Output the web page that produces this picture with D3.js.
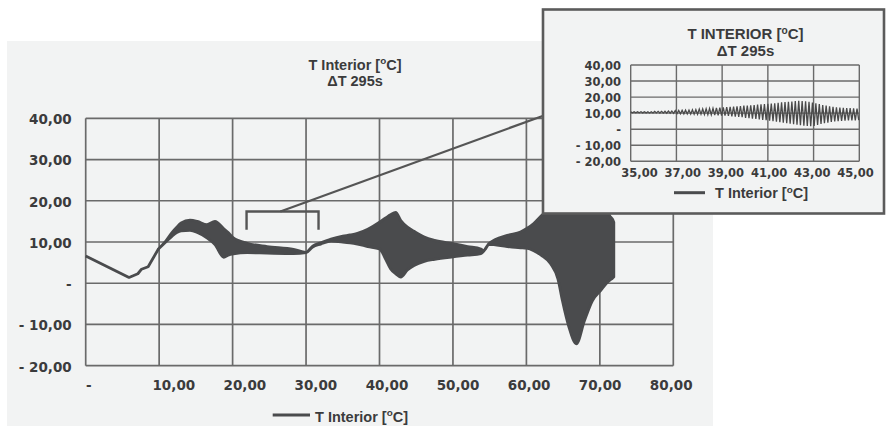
<!DOCTYPE html>
<html><head><meta charset="utf-8">
<script src="https://cdn.jsdelivr.net/npm/d3@7"></script>
<style>
html,body{margin:0;padding:0;background:#fff;}
svg{display:block;}
</style></head>
<body>
<svg id="chart" width="886" height="426"></svg>
<script>
// ---------- DATA ----------
const mainTitle = ["T Interior [", "o", "C]"];
const insetTitle = ["T INTERIOR [", "o", "C]"];
const subTitle = "ΔT 295s";
const legendLabel = ["T Interior [", "o", "C]"];

const xTicks = [0, 10, 20, 30, 40, 50, 60, 70, 80];
const yTicks = [-20, -10, 0, 10, 20, 30, 40];
const insetXTicks = [35, 37, 39, 41, 43, 45];
const insetYTicks = [-20, -10, 0, 10, 20, 30, 40];

// envelope of the strongly oscillating main series (upper / lower)
const envX = [0,5.9,7.1,7.6,8.5,9.9,10.9,11.8,12.4,13.0,14.2,15.2,16.5,17.6,18.8,19.4,20.1,22.0,24.7,28.3,30.0,30.9,32.0,33.4,35.0,36.0,37.0,38.4,40.0,40.9,41.5,42.2,42.9,43.8,44.7,46.1,47.5,50.0,52.0,53.8,54.2,54.9,57.4,59.2,60.0,61.0,62.0,63.3,64.3,64.9,65.8,66.8,67.9,69.0,70.1,71.0,71.4,71.7,71.9];
const envUpper = [6.6,1.4,2.3,3.4,4.0,8.3,10.2,12.4,13.6,14.6,15.3,15.0,14.2,15.0,13.2,12.3,11.0,9.7,8.9,8.2,7.5,9.0,9.8,10.7,11.4,11.7,12.1,13.1,14.8,15.9,16.6,17.2,15.2,13.6,12.6,11.2,10.4,9.6,8.9,8.3,7.9,9.6,11.6,12.4,13.2,14.5,16.3,18.5,19.5,20.0,20.5,20.5,20.5,20.0,19.0,17.5,16.2,15.6,14.8];
const envLower = [6.6,1.4,2.3,3.4,4.0,8.3,10.0,11.5,12.3,12.7,12.8,12.3,11.0,9.4,6.3,6.8,7.1,7.4,7.3,7.2,7.4,8.8,9.5,10.2,10.0,9.8,9.5,8.9,8.3,5.6,3.5,2.3,1.5,3.2,4.3,5.3,5.8,6.4,6.8,7.2,7.8,9.4,8.9,8.6,8.5,7.9,6.8,4.7,1.0,-4.2,-10.7,-14.7,-9.1,-4.2,-1.8,0.2,0.8,1.2,1.5];

// inset: the series between 35 and 45, one value per sample (ΔT step)
const insetStart = 35;
const insetStep = 0.075;
const insetValues = [10.8,10.2,10.8,10.2,10.8,10.2,10.85,10.15,10.85,10.15,10.9,10.1,10.9,10.1,
11.05,10.15,11.1,10.1,11.15,10.05,11.2,10.0,11.3,9.95,11.35,9.9,
11.6,9.65,11.7,9.6,11.75,9.55,11.85,9.5,11.95,9.45,12.05,9.35,12.15,9.3,
12.5,9.3,12.6,9.2,12.75,9.1,12.9,9.0,13.05,8.85,13.2,8.7,13.4,8.5,
13.6,8.4,13.75,8.25,13.9,8.05,14.1,7.9,14.3,7.7,14.45,7.5,14.7,
7.0,14.7,6.8,14.9,6.6,15.1,6.35,15.3,6.1,15.5,5.85,15.7,5.6,
15.8,5.3,16.0,5.0,16.2,4.7,16.4,4.4,16.7,4.0,16.9,3.7,17.1,3.4,
17.3,3.1,17.6,2.8,17.7,2.5,17.6,2.2,17.4,2.0,17.0,1.8,16.6,
2.0,16.1,2.6,15.6,3.2,15.1,3.7,14.7,4.1,14.3,4.5,14.0,4.8,
13.7,5.0,13.5,5.2,13.3,5.3,13.2,5.4,13.1,5.5,13.0,5.5,12.9,5.6];

// zoom annotation (bracket on the main chart, link to inset)
const bracketX = [21.9, 31.7];
const bracketY = [13.0, 17.4];
const linkFrom = [26.5, 17.4];
const linkTo = [62.4, 40.7];

// ---------- RENDER ----------
const svg = d3.select("#chart");
const ink = "#3b3b3c", grid = "#6a6a6a", band = "#4a4b4d", bg = "#f2f3f3";
const tickFont = "'DejaVu Sans', sans-serif";
const titleFont = "'Liberation Sans', Arial, sans-serif";

const loc = d3.formatLocale({decimal: ",", thousands: ".", grouping: [3], currency: ["", ""]});
const f2 = loc.format(".2f");
const fmt = v => v === 0 ? "-" : (v < 0 ? "- " + f2(-v) : f2(v));

function titleText(g, parts, x, yb, size, anchor) {
  const t = g.append("text").attr("x", x).attr("y", yb)
    .attr("text-anchor", anchor).attr("font-family", titleFont)
    .attr("font-weight", "bold").attr("font-size", size).attr("fill", ink);
  t.append("tspan").text(parts[0]);
  t.append("tspan").text(parts[1]).attr("font-size", size * 0.68).attr("dy", -size * 0.36);
  t.append("tspan").text(parts[2]).attr("dy", size * 0.36);
  return t;
}

// main panel
svg.append("rect").attr("x", 7).attr("y", 41).attr("width", 706).attr("height", 385).attr("fill", bg);

const x = d3.scaleLinear().domain([0, 80]).range([85.7, 673.3]);
const y = d3.scaleLinear().domain([-20, 40]).range([365.7, 118.3]);
const xLab = d3.scaleLinear().domain([10, 80]).range([173.3, 670.7]);

const gMain = svg.append("g");
// grid
gMain.append("g").selectAll("line.h").data(yTicks).join("line")
  .attr("x1", x(0)).attr("x2", x(80)).attr("y1", d => y(d)).attr("y2", d => y(d))
  .attr("stroke", grid).attr("stroke-width", 1.7);
gMain.append("g").selectAll("line.v").data(xTicks).join("line")
  .attr("x1", d => x(d)).attr("x2", d => x(d)).attr("y1", y(40)).attr("y2", y(-20))
  .attr("stroke", grid).attr("stroke-width", 1.7);

// axes labels
const yAx = gMain.append("g").attr("transform", `translate(71.7,0)`)
  .call(d3.axisLeft(y).tickValues(yTicks).tickFormat(fmt).tickSize(0).tickPadding(0));
yAx.select(".domain").remove();
yAx.selectAll("text").attr("font-family", tickFont).attr("font-weight", "bold")
  .attr("font-size", 13.5).attr("fill", ink).attr("dy", "0.4em");

const xAx = gMain.append("g").attr("transform", `translate(0,390)`)
  .call(d3.axisBottom(x).tickValues(xTicks).tickFormat(fmt).tickSize(0).tickPadding(0));
xAx.select(".domain").remove();
xAx.selectAll("text").attr("font-family", tickFont).attr("font-weight", "bold")
  .attr("font-size", 13.5).attr("fill", ink).attr("dy", 0)
  .attr("x", d => (d === 0 ? x(0) + 2.6 : xLab(d)) - x(d));

// series: plain line where the oscillation is negligible, smooth band elsewhere
const env = envX.map((v, i) => ({x: v, u: envUpper[i], l: envLower[i]}));
const split = 5;
gMain.append("path").datum(env.slice(0, split + 1))
  .attr("d", d3.line().x(d => x(d.x)).y(d => y(d.u)))
  .attr("fill", "none").attr("stroke", band).attr("stroke-width", 2.8).attr("stroke-linejoin", "round");
gMain.append("path").datum(env.slice(split))
  .attr("d", d3.area().x(d => x(d.x)).y0(d => y(d.l)).y1(d => y(d.u)).curve(d3.curveMonotoneX))
  .attr("fill", band).attr("stroke", band).attr("stroke-width", 2.8).attr("stroke-linejoin", "round");

// titles
titleText(gMain, mainTitle, 355, 69.5, 14.5, "middle");
gMain.append("text").attr("x", 355).attr("y", 85.5).attr("text-anchor", "middle")
  .attr("font-family", titleFont).attr("font-weight", "bold").attr("font-size", 14.5)
  .attr("fill", ink).text(subTitle);

// legend
gMain.append("line").attr("x1", 272.7).attr("x2", 310).attr("y1", 415).attr("y2", 415)
  .attr("stroke", band).attr("stroke-width", 3);
titleText(gMain, legendLabel, 315, 421.5, 14.5, "start");

// bracket + link
gMain.append("path")
  .attr("d", d3.line()([[x(bracketX[0]), y(bracketY[0])], [x(bracketX[0]), y(bracketY[1])],
                        [x(bracketX[1]), y(bracketY[1])], [x(bracketX[1]), y(bracketY[0])]]))
  .attr("fill", "none").attr("stroke", "#555").attr("stroke-width", 2.4);
gMain.append("line").attr("x1", x(linkFrom[0])).attr("y1", y(linkFrom[1]))
  .attr("x2", x(linkTo[0])).attr("y2", y(linkTo[1]))
  .attr("stroke", "#555").attr("stroke-width", 2.2);

// ---------- INSET ----------
const gIn = svg.append("g");
gIn.append("rect").attr("x", 543).attr("y", 9.5).attr("width", 341).attr("height", 204)
  .attr("fill", bg).attr("stroke", "#5b5b5b").attr("stroke-width", 2.6);

const xi = d3.scaleLinear().domain([35, 45]).range([630.7, 859.3]);
const yi = d3.scaleLinear().domain([-20, 40]).range([161.3, 65]);
const xiLab = d3.scaleLinear().domain([35, 45]).range([639, 855]);

gIn.append("g").selectAll("line").data(insetYTicks).join("line")
  .attr("x1", xi(35)).attr("x2", xi(45)).attr("y1", d => yi(d)).attr("y2", d => yi(d))
  .attr("stroke", grid).attr("stroke-width", 1.4);
gIn.append("g").selectAll("line").data(insetXTicks).join("line")
  .attr("x1", d => xi(d)).attr("x2", d => xi(d)).attr("y1", yi(40)).attr("y2", yi(-20))
  .attr("stroke", grid).attr("stroke-width", 1.4);

const yiAx = gIn.append("g").attr("transform", `translate(621,0)`)
  .call(d3.axisLeft(yi).tickValues(insetYTicks).tickFormat(fmt).tickSize(0).tickPadding(0));
yiAx.select(".domain").remove();
yiAx.selectAll("text").attr("font-family", tickFont).attr("font-weight", "bold")
  .attr("font-size", 11.5).attr("fill", ink).attr("dy", "0.38em");

const xiAx = gIn.append("g").attr("transform", `translate(0,177.3)`)
  .call(d3.axisBottom(xi).tickValues(insetXTicks).tickFormat(fmt).tickSize(0).tickPadding(0));
xiAx.select(".domain").remove();
xiAx.selectAll("text").attr("font-family", tickFont).attr("font-weight", "bold")
  .attr("font-size", 11.5).attr("fill", ink).attr("dy", 0)
  .attr("x", d => xiLab(d) - xi(d));

const insetPts = insetValues.map((v, i) => [insetStart + i * insetStep, v]);
gIn.append("path").datum(insetPts)
  .attr("d", d3.line().x(d => xi(d[0])).y(d => yi(d[1])))
  .attr("fill", "none").attr("stroke", "#4a4a4a").attr("stroke-width", 1.3);

titleText(gIn, insetTitle, 745.5, 39, 15, "middle");
gIn.append("text").attr("x", 745.5).attr("y", 55.5).attr("text-anchor", "middle")
  .attr("font-family", titleFont).attr("font-weight", "bold").attr("font-size", 15)
  .attr("fill", ink).text(subTitle);

gIn.append("line").attr("x1", 674).attr("x2", 705).attr("y1", 192.7).attr("y2", 192.7)
  .attr("stroke", band).attr("stroke-width", 3);
titleText(gIn, legendLabel, 715, 197.8, 14.5, "start");
</script>
</body></html>
